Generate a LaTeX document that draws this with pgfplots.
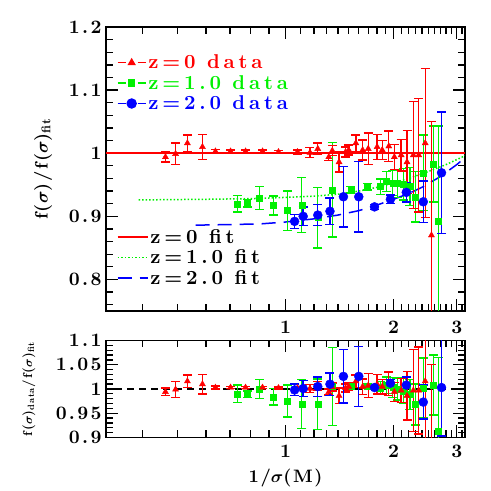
\documentclass[border=0pt]{standalone}
\usepackage{fontspec}
\setmainfont{lmroman10-regular.otf}[BoldFont=lmroman10-bold.otf, ItalicFont=lmroman10-italic.otf, BoldItalicFont=lmroman10-bolditalic.otf, LetterSpace=9]
\usepackage{pgfplots}
\usepackage{pgfplotstable}
\pgfplotsset{compat=1.18}
\definecolor{mygreen}{RGB}{0,240,0}
\definecolor{myred}{RGB}{255,0,0}
\definecolor{myblue}{RGB}{0,0,255}
\newcommand{\legfont}{\fontsize{20}{20}\selectfont\bfseries\addfontfeatures{LetterSpace=19}}
\newcommand{\tickfont}{\fontsize{19}{19}\selectfont\bfseries\addfontfeatures{LetterSpace=12}}

\pgfplotstableread{
x y e
0.463 0.994 0.008
0.494 0.999 0.017
0.533 1.016 0.013
0.587 1.010 0.020
0.638 1.003 0.003
0.703 1.003 0.002
0.774 1.003 0.002
0.863 1.003 0.002
0.956 1.002 0.002
1.08 1.002 0.003
1.17 1.001 0.008
1.23 1.007 0.009
1.32 0.994 0.006
1.35 1.004 0.008
1.41 0.986 0.016
1.47 1.002 0.008
1.50 1.005 0.008
1.57 1.016 0.013
1.64 1.005 0.016
1.70 1.007 0.025
1.80 1.010 0.020
1.86 1.005 0.015
1.94 1.011 0.024
2.01 0.994 0.020
2.10 0.997 0.025
2.18 0.986 0.050
2.27 0.997 0.085
2.35 0.997 0.090
2.45 1.016 0.118
2.55 0.870 0.180
}\redtop

\pgfplotstableread{
x y e
0.735 0.920 0.013
0.784 0.921 0.006
0.847 0.929 0.018
0.926 0.917 0.015
1.013 0.909 0.031
1.11 0.918 0.044
1.23 0.898 0.048
1.35 0.942 0.075
1.52 0.942 0.005
1.69 0.947 0.005
1.84 0.947 0.012
1.91 0.955 0.016
1.99 0.953 0.020
2.05 0.952 0.022
2.13 0.951 0.025
2.22 0.947 0.030
2.30 0.931 0.040
2.42 0.969 0.060
2.58 0.983 0.060
2.67 0.893 0.150
}\greentop

\pgfplotstableread{
x y e
1.06 0.892 0.011
1.12 0.900 0.015
1.23 0.902 0.017
1.33 0.908 0.021
1.45 0.931 0.048
1.60 0.931 0.056
1.77 0.915 0.004
1.96 0.927 0.007
2.17 0.938 0.015
2.42 0.923 0.033
2.72 0.969 0.096
}\bluetop

\pgfplotstableread{
x y e
0.735 0.990 0.018
0.784 0.989 0.007
0.847 1.000 0.019
0.926 0.984 0.017
1.013 0.975 0.033
1.11 0.969 0.050
1.23 0.969 0.052
1.35 1.005 0.080
1.52 1.005 0.005
1.69 1.006 0.005
1.84 1.002 0.013
1.91 1.008 0.017
1.99 1.003 0.021
2.05 1.000 0.023
2.13 0.996 0.026
2.22 0.989 0.031
2.30 0.968 0.042
2.42 1.002 0.062
2.58 1.008 0.062
2.67 0.912 0.153
}\greenbot

\pgfplotstableread{
x y e
1.06 0.998 0.012
1.12 1.001 0.017
1.23 1.005 0.020
1.33 1.010 0.023
1.45 1.026 0.055
1.60 1.026 0.062
1.77 1.003 0.004
1.96 1.012 0.007
2.17 1.008 0.017
2.42 0.973 0.035
2.72 1.003 0.100
}\bluebot

\pgfplotsset{
 myebar/.style={only marks,
   error bars/y dir=both, error bars/y explicit,
   error bars/error bar style={line width=1.4pt},
   error bars/error mark options={rotate=90, mark size=4.5pt, line width=1.4pt}},
}

\begin{document}
\begin{tikzpicture}
\useasboundingbox (0,0) rectangle (491pt,491pt);
% ---------- top panel: axes + fits ----------
\begin{axis}[xmode=log, scale only axis, width=359pt, height=284pt,
  at={(106pt,180pt)}, anchor=south west,
  xmin=0.31623, xmax=3.16228, ymin=0.75, ymax=1.2,
  axis line style={line width=1.6pt},
  tick align=inside, major tick length=12pt, minor tick length=7pt,
  every tick/.append style={line width=1.3pt, black},
  xtick={1,2,3}, xticklabels={1,2,3},
  minor xtick={0.4,0.5,0.6,0.7,0.8,0.9,1.1,1.2,1.3,1.4,1.5,1.6,1.7,1.8,1.9,2.1,2.2,2.3,2.4,2.5,2.6,2.7,2.8,2.9,3.1},
  ytick={0.8,0.9,1,1.1,1.2}, yticklabels={0.8,0.9,1,1.1,1.2},
  minor ytick={0.76,0.78,0.82,0.84,0.86,0.88,0.92,0.94,0.96,0.98,1.02,1.04,1.06,1.08,1.12,1.14,1.16,1.18},
  tick label style={font=\tickfont},
  yticklabel style={xshift=-1pt},
  xticklabel style={yshift=-7pt},
  ylabel={f($\sigma$)/f($\sigma$)\textsubscript{fit}},
  ylabel style={at={(axis description cs:-0.175,0.5)}, anchor=center, font=\fontsize{18}{18}\selectfont\bfseries\boldmath},
  legend style={at={(axis description cs:0.03,0.295)}, anchor=north west, draw=none, fill=none,
    font=\legfont, row sep=1pt, inner sep=0pt},
  legend cell align=left,
  legend image code/.code={\draw plot coordinates {(0pt,0pt) (30pt,0pt)};},
]
\addplot[myred, line width=1.5pt] coordinates {(0.31623,1) (3.16228,1)};
\addlegendentry{z=0 fit}
\addplot[mygreen, line width=1.5pt, dash pattern=on 1.5pt off 2pt] coordinates {
(0.39,0.926) (0.6,0.927) (0.8,0.928) (1.0,0.930) (1.2,0.932) (1.4,0.935) (1.6,0.940) (1.8,0.946) (2.0,0.953) (2.2,0.960) (2.5,0.971) (2.8,0.982) (3.16228,0.996)};
\addlegendentry{z=1.0 fit}
\addplot[myblue, draw=myblue, line width=1.5pt, dash pattern=on 14pt off 8pt] coordinates {
(0.562,0.886) (0.7,0.887) (0.85,0.888) (1.0,0.891) (1.2,0.896) (1.4,0.902) (1.6,0.909) (1.8,0.918) (2.0,0.927) (2.2,0.936) (2.4,0.946) (2.7,0.963) (3.0,0.982) (3.16228,0.993)};
\addlegendentry{z=2.0 fit}
\end{axis}
% ---------- top panel: data (overlay) ----------
\begin{axis}[xmode=log, hide axis, scale only axis, width=359pt, height=284pt,
  at={(106pt,180pt)}, anchor=south west,
  xmin=0.31623, xmax=3.16228, ymin=0.75, ymax=1.2,
  legend style={at={(axis description cs:0.03,0.909)}, anchor=north west, draw=none, fill=none,
    font=\legfont, row sep=1pt, inner sep=0pt},
  legend cell align=left,
  legend image code/.code={\draw[mark repeat=2,mark phase=2,dash pattern=on 8pt off 12pt,line width=1.4pt] plot coordinates {(0pt,0pt) (14pt,0pt) (28pt,0pt)};},
]
\addplot[mygreen, mark=square*, mark size=3pt, forget plot, myebar] table[x=x,y=y,y error=e] {\greentop};
\addplot[myred, mark=triangle*, mark size=3.5pt, forget plot, myebar] table[x=x,y=y,y error=e] {\redtop};
\addplot[myblue, mark=*, mark size=4.5pt, forget plot, myebar] table[x=x,y=y,y error=e] {\bluetop};
\addlegendimage{myred, mark=triangle*, mark size=3.5pt, mark options={solid}}
\addlegendentry{\textcolor{myred}{z=0 data}}
\addlegendimage{mygreen, mark=square*, mark size=3pt, mark options={solid}}
\addlegendentry{\textcolor{mygreen}{z=1.0 data}}
\addlegendimage{myblue, mark=*, mark size=4.5pt, mark options={solid}}
\addlegendentry{\textcolor{myblue}{z=2.0 data}}
\end{axis}
% ---------- bottom panel ----------
\begin{axis}[xmode=log, scale only axis, width=359pt, height=97pt,
  at={(106pt,53.5pt)}, anchor=south west,
  xmin=0.31623, xmax=3.16228, ymin=0.9, ymax=1.1,
  axis line style={line width=1.6pt},
  tick align=inside, major tick length=12pt, minor tick length=7pt,
  every tick/.append style={line width=1.3pt, black},
  xtick={1,2,3}, xticklabels={1,2,3},
  minor xtick={0.4,0.5,0.6,0.7,0.8,0.9,1.1,1.2,1.3,1.4,1.5,1.6,1.7,1.8,1.9,2.1,2.2,2.3,2.4,2.5,2.6,2.7,2.8,2.9,3.1},
  ytick={0.9,0.95,1,1.05,1.1}, yticklabels={0.9,0.95,1,1.05,1.1},
  minor ytick={0.91,0.92,0.93,0.94,0.96,0.97,0.98,0.99,1.01,1.02,1.03,1.04,1.06,1.07,1.08,1.09},
  tick label style={font=\tickfont},
  yticklabel style={xshift=-1pt},
  xticklabel style={yshift=-4pt},
  xlabel={1/$\sigma$(M)},
  xlabel style={at={(axis description cs:0.5,-0.42)}, anchor=center, font=\fontsize{18}{18}\selectfont\bfseries\boldmath},
  ylabel={f($\sigma$)\textsubscript{data}/f($\sigma$)\textsubscript{fit}},
  ylabel style={at={(axis description cs:-0.215,0.5)}, anchor=center, font=\fontsize{13}{13}\selectfont\bfseries\boldmath},
]
\addplot[black, line width=1.5pt, dash pattern=on 7pt off 5pt] coordinates {(0.336,1) (2.92,1)};
\addplot[mygreen, mark=square*, mark size=3pt, myebar] table[x=x,y=y,y error=e] {\greenbot};
\addplot[myred, mark=triangle*, mark size=3.5pt, myebar] table[x=x,y=y,y error=e] {\redtop};
\addplot[myblue, mark=*, mark size=4.5pt, myebar] table[x=x,y=y,y error=e] {\bluebot};
\end{axis}
\end{tikzpicture}
\end{document}
